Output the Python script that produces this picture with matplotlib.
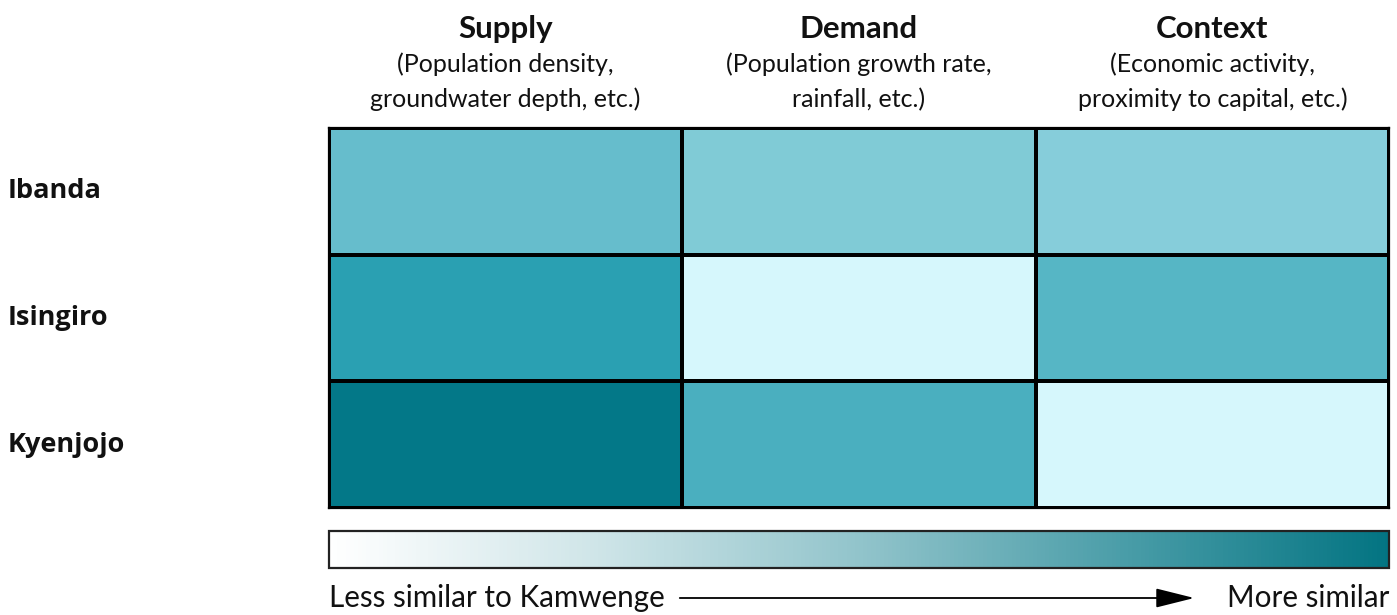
import numpy as np
import matplotlib
matplotlib.use("Agg")
import matplotlib.pyplot as plt
from matplotlib.colors import LinearSegmentedColormap, Normalize
from matplotlib.cm import ScalarMappable
from matplotlib.patches import FancyArrowPatch
from matplotlib.transforms import blended_transform_factory

# ---- data ----
columns = ["Supply", "Demand", "Context"]
column_notes = ["(Population density,\ngroundwater depth, etc.)",
                "(Population growth rate,\nrainfall, etc.)",
                "(Economic activity,\nproximity to capital, etc.)"]
districts = ["Ibanda", "Isingiro", "Kyenjojo"]
# similarity scores (0 = less similar, 1 = more similar)
supply = [0.50, 0.80, 1.00]
demand = [0.38, 0.00, 0.65]
context = [0.35, 0.60, 0.00]
legend_left = "Less similar to Kamwenge"
legend_right = "More similar"

# cell colormap
cell_stops = [(0.00, "#D6F7FC"), (0.35, "#86CDDA"), (0.38, "#80CBD6"),
              (0.50, "#66BDCC"), (0.60, "#56B6C5"), (0.65, "#4AAFBF"),
              (0.80, "#2AA0B2"), (1.00, "#037888")]
cell_cmap = LinearSegmentedColormap.from_list("cells", cell_stops)
bar_cmap = LinearSegmentedColormap.from_list(
    "bar", [(0.0, "#FFFFFF"), (0.25, "#CFE5E8"), (0.5, "#92C4CB"),
            (0.75, "#4A9DA8"), (1.0, "#037482")])

W, H = 1397, 615
fig = plt.figure(figsize=(W / 100, H / 100), dpi=100)
fig.patch.set_facecolor("white")

def px_axes(x0, y0, x1, y1):
    return fig.add_axes([x0 / W, 1 - y1 / H, (x1 - x0) / W, (y1 - y0) / H])

head_font = ["Lato", "DejaVu Sans"]
row_font = ["Open Sans", "DejaVu Sans"]

# ---- heatmap ----
ax = px_axes(329, 128, 1389, 508)
vals = np.array([supply, demand, context]).T
ax.pcolormesh(np.arange(len(columns) + 1), np.arange(len(districts) + 1), vals,
              cmap=cell_cmap, norm=Normalize(0, 1),
              edgecolors="black", linewidth=1.6)
ax.set_xlim(0, len(columns))
ax.set_ylim(len(districts), 0)
ax.set_xticks([])
ax.set_yticks([])
for s in ax.spines.values():
    s.set_linewidth(1.6)
    s.set_color("black")

for i, (c, n) in enumerate(zip(columns, column_notes)):
    ax.text(i + 0.5, 1 + 99 / 380, c, transform=ax.get_xaxis_transform(),
            ha="center", va="center", fontsize=22.5, fontweight="bold",
            family=head_font, color="#111111")
    ax.text(i + 0.5, 1 + 46 / 380, n, transform=ax.get_xaxis_transform(),
            ha="center", va="center", fontsize=18, family=head_font,
            color="#111111", linespacing=1.6)

row_tr = blended_transform_factory(fig.transFigure, ax.transData)
for j, d in enumerate(districts):
    ax.text(8 / W, j + 0.5, d, transform=row_tr,
            ha="left", va="center", fontsize=19.5, fontweight="bold",
            family=row_font, color="#111111")

# ---- colour bar ----
cax = px_axes(329, 531, 1389, 568)
cb = fig.colorbar(ScalarMappable(norm=Normalize(0, 1), cmap=bar_cmap),
                  cax=cax, orientation="horizontal")
cb.set_ticks([])
cb.outline.set_linewidth(1.6)
cb.outline.set_edgecolor("#222222")

fig.text(329 / W, 1 - 598 / H, legend_left, ha="left", va="center",
         fontsize=21.3, family=head_font, color="#111111")
fig.text(1389 / W, 1 - 598 / H, legend_right, ha="right", va="center",
         fontsize=21.3, family=head_font, color="#111111")
arrow = FancyArrowPatch((677 / W, 1 - 598 / H), (1197 / W, 1 - 598 / H),
                        transform=fig.transFigure,
                        arrowstyle="-|>,head_length=24,head_width=6",
                        mutation_scale=1, linewidth=1.3, color="black")
fig.add_artist(arrow)

fig.savefig("out.png", dpi=100, facecolor="white")
